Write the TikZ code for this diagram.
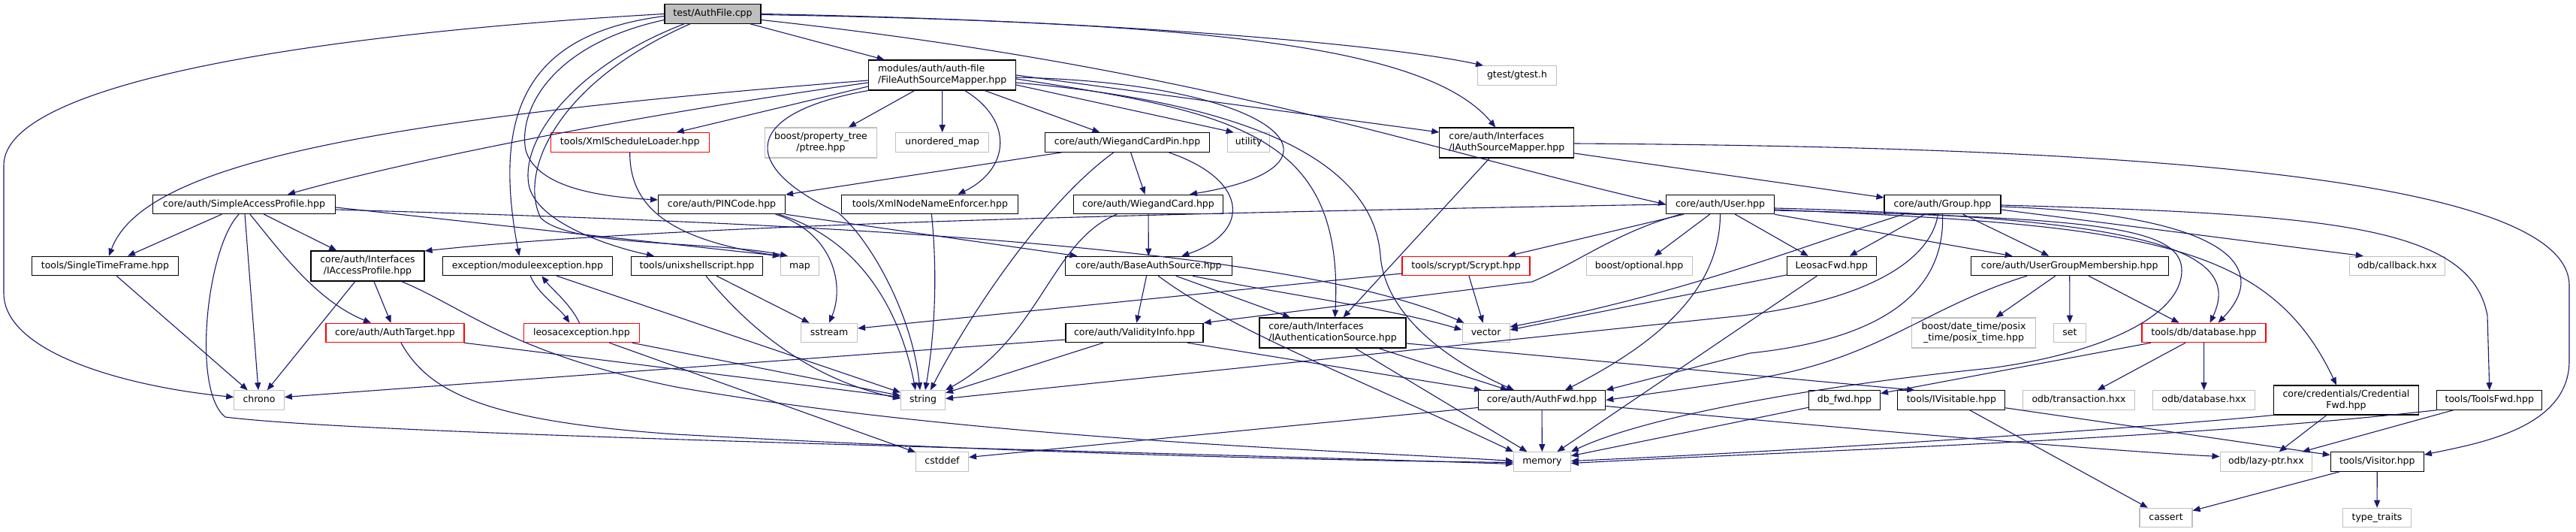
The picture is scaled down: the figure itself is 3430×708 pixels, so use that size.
\documentclass[tikz,border=0pt]{standalone}
\usepackage{fontspec}
\setmainfont{DejaVu Sans}
\usetikzlibrary{arrows.meta}
\definecolor{edgeblue}{HTML}{191970}
\definecolor{sysgray}{HTML}{BFBFBF}
\definecolor{rootgray}{HTML}{BFBFBF}
\begin{document}
\begin{tikzpicture}[x=1pt, y=-1pt, >={Triangle[length=10pt,width=8pt]}, line cap=round,
    font=\fontsize{12.5}{15}\selectfont,
    nodebox/.style={line width=1.1pt, fill=white, inner sep=0pt, minimum height=25.5pt, text height=9.5pt, text depth=3pt},
    hdrbox/.style={nodebox, draw=black},
    sysbox/.style={nodebox, draw=sysgray},
    redbox/.style={nodebox, draw=red},
    rootbox/.style={nodebox, draw=black, fill=rootgray},
    twoline/.style={text height=, text depth=, minimum height=40pt},
    dep/.style={->, draw=edgeblue, line width=1.1pt}]
    \useasboundingbox (0,0) rectangle (3430,708);
    % row 0 - 1
    \node[rootbox, minimum width=128] (root) at (949,18.5) {test/AuthFile.cpp};
    \node[hdrbox, twoline, align=left, minimum width=196] (FASM) at (1254.6,100) {modules/auth/auth-file\\/FileAuthSourceMapper.hpp};
    \node[sysbox, minimum width=104.5] (gtest) at (2020,100.5) {gtest/gtest.h};
    % row 2
    \node[redbox, minimum width=211] (XSL) at (838.7,189.5) {tools/XmlScheduleLoader.hpp};
    \node[sysbox, twoline, align=center, minimum width=149] (ptree) at (1093,190) {boost/property\_tree\\/ptree.hpp};
    \node[sysbox, minimum width=124.4] (umap) at (1254.7,189.5) {unordered\_map};
    \node[hdrbox, minimum width=219] (WCP) at (1501,189.5) {core/auth/WiegandCardPin.hpp};
    \node[sysbox, minimum width=56] (utility) at (1662.7,189.5) {utility};
    \node[hdrbox, twoline, align=left, minimum width=179] (IASM) at (2006.3,190) {core/auth/Interfaces\\/IAuthSourceMapper.hpp};
    % row 3
    \node[hdrbox, minimum width=243] (SAP) at (325,272) {core/auth/SimpleAccessProfile.hpp};
    \node[hdrbox, minimum width=169] (PINCode) at (961,272) {core/auth/PINCode.hpp};
    \node[hdrbox, minimum width=235] (XNNE) at (1238.4,272) {tools/XmlNodeNameEnforcer.hpp};
    \node[hdrbox, minimum width=198.6] (WCard) at (1529,272) {core/auth/WiegandCard.hpp};
    \node[hdrbox, minimum width=144] (User) at (2290.5,272) {core/auth/User.hpp};
    \node[hdrbox, minimum width=155] (Group) at (2586.5,272) {core/auth/Group.hpp};
    % row 4
    \node[hdrbox, minimum width=195] (STF) at (140,354) {tools/SingleTimeFrame.hpp};
    \node[hdrbox, twoline, align=center, minimum width=151] (IAP) at (489.5,354) {core/auth/Interfaces\\/IAccessProfile.hpp};
    \node[hdrbox, minimum width=226.7] (modex) at (702.4,354) {exception/moduleexception.hpp};
    \node[hdrbox, minimum width=175] (unix) at (928,354) {tools/unixshellscript.hpp};
    \node[sysbox, minimum width=51] (map) at (1065,354) {map};
    \node[hdrbox, minimum width=222.7] (BAS) at (1529.4,354) {core/auth/BaseAuthSource.hpp};
    \node[redbox, minimum width=170] (Scrypt) at (1952,354) {tools/scrypt/Scrypt.hpp};
    \node[sysbox, minimum width=141] (optional) at (2182.6,354) {boost/optional.hpp};
    \node[hdrbox, minimum width=119] (LFwd) at (2438.8,354) {LeosacFwd.hpp};
    \node[hdrbox, minimum width=263] (UGM) at (2755.7,354) {core/auth/UserGroupMembership.hpp};
    \node[sysbox, minimum width=127] (callback) at (3191.8,354) {odb/callback.hxx};
    % row 5
    \node[redbox, minimum width=184] (AuthTarget) at (526,443) {core/auth/AuthTarget.hpp};
    \node[redbox, minimum width=154] (leosac) at (774.4,443) {leosacexception.hpp};
    \node[sysbox, minimum width=75] (sstream) at (1104,443) {sstream};
    \node[hdrbox, minimum width=183] (Validity) at (1510.5,443) {core/auth/ValidityInfo.hpp};
    \node[hdrbox, twoline, align=left, minimum width=195] (IAS) at (1774.5,443) {core/auth/Interfaces\\/IAuthenticationSource.hpp};
    \node[sysbox, minimum width=63] (vector) at (1978.6,443) {vector};
    \node[sysbox, twoline, align=center, minimum width=164.6] (posix) at (2628,443) {boost/date\_time/posix\\\_time/posix\_time.hpp};
    \node[sysbox, minimum width=43] (set) at (2756,443) {set};
    \node[redbox, minimum width=165] (database) at (2934.5,443) {tools/db/database.hpp};
    % row 6
    \node[sysbox, minimum width=66.5] (chrono) at (345,532.5) {chrono};
    \node[sysbox, minimum width=59] (string) at (1229,532.5) {string};
    \node[hdrbox, minimum width=169.5] (AuthFwd) at (2053,532.5) {core/auth/AuthFwd.hpp};
    \node[hdrbox, minimum width=95] (dbfwd) at (2455.9,532.5) {db\_fwd.hpp};
    \node[hdrbox, minimum width=143] (IVisitable) at (2598.4,532.5) {tools/IVisitable.hpp};
    \node[sysbox, minimum width=148.5] (transaction) at (2768,532.5) {odb/transaction.hxx};
    \node[sysbox, minimum width=136] (odbdb) at (2934.6,532.5) {odb/database.hxx};
    \node[hdrbox, twoline, align=center, minimum width=193.3, minimum height=39pt] (CredFwd) at (3124,532.5) {core/credentials/Credential\\Fwd.hpp};
    \node[hdrbox, minimum width=140] (ToolsFwd) at (3314.8,532.5) {tools/ToolsFwd.hpp};
    % row 7 - 8
    \node[sysbox, minimum width=70] (cstddef) at (1254.5,614.5) {cstddef};
    \node[sysbox, minimum width=75.8] (memory) at (2053.4,614.5) {memory};
    \node[sysbox, minimum width=122.5] (lazyptr) at (3017.3,614.5) {odb/lazy-ptr.hxx};
    \node[hdrbox, minimum width=124] (Visitor) at (3165.3,614.5) {tools/Visitor.hpp};
    \node[sysbox, minimum width=70] (cassert) at (2884,689) {cassert};
    \node[sysbox, minimum width=90.8] (typetraits) at (3165,689) {type\_traits};

    % root
    \draw[dep] (root.west) .. controls (420,45) and (5,110) .. (5,220) -- (5,390) .. controls (5,470) and (170,515) .. ([yshift=4pt]chrono.west);
    \draw[dep] ([yshift=-3pt]root.west) .. controls (700,45) and (655,150) .. ([xshift=-11pt]modex.north);
    \draw[dep] ([yshift=-8pt]root.west) .. controls (730,60) and (690,150) .. (700,200) .. controls (715,250) and (800,262) .. ([yshift=6pt]PINCode.west);
    \draw[dep] ([xshift=-38pt]root.south) .. controls (760,90) and (690,190) .. (705,250) .. controls (720,300) and (820,330) .. ([xshift=-57pt]unix.north);
    \draw[dep] ([xshift=-30pt]root.south) .. controls (740,110) and (690,230) .. (720,290) .. controls (760,330) and (950,320) .. ([xshift=-16pt]map.north);
    \draw[dep] (root) -- (FASM);
    \draw[dep] (root.east) .. controls (1500,28) and (1850,60) .. ([xshift=-45pt]gtest.north);
    \draw[dep] ([yshift=-1pt]root.east) .. controls (1600,30) and (1900,60) .. ([xshift=-15pt]IASM.north);
    \draw[dep] ([yshift=-8pt]root.east) .. controls (1600,90) and (1900,200) .. (User.west);
    % FASM
    \draw[dep] ([yshift=-7pt]FASM.west) .. controls (480,160) and (190,220) .. ([xshift=5pt]STF.north);
    \draw[dep] ([yshift=-10pt]FASM.west) .. controls (800,160) and (520,220) .. ([xshift=58pt]SAP.north);
    \draw[dep] ([yshift=-15pt]FASM.west) -- ([xshift=62pt]XSL.north);
    \draw[dep] (FASM.south west) .. controls (990,150) and (980,220) .. (1116,283) .. controls (1160,320) and (1215,420) .. ([xshift=-4pt]string.north);
    \draw[dep] (FASM) -- (ptree);
    \draw[dep] (FASM) -- (umap);
    \draw[dep] ([xshift=30pt]FASM.south) .. controls (1350,160) and (1345,225) .. ([xshift=37pt]XNNE.north);
    \draw[dep] (FASM) -- (WCP);
    \draw[dep] ([yshift=-13pt]FASM.east) -- ([xshift=-20pt]utility.north);
    \draw[dep] ([yshift=-3pt]FASM.east) .. controls (1700,110) and (1820,220) .. ([xshift=55pt]WCard.north);
    \draw[dep] (FASM.east) -- ([yshift=14pt]IASM.west);
    \draw[dep] ([yshift=-5pt]FASM.east) .. controls (1650,150) and (1790,180) .. ([xshift=3pt]IAS.north);
    \draw[dep] ([yshift=-10pt]FASM.east) .. controls (1700,140) and (1830,230) .. (1838,340) .. controls (1845,430) and (1950,490) .. ([xshift=-37pt]AuthFwd.north);
    % SAP
    \draw[dep] (SAP) -- (STF);
    \draw[dep] (SAP) -- (chrono);
    \draw[dep] (SAP) -- (IAP);
    \draw[dep] ([xshift=8pt]SAP.south) .. controls (370,330) and (420,400) .. ([xshift=-32pt]AuthTarget.north);
    \draw[dep] ([xshift=-7pt]SAP.south) .. controls (275,330) and (255,520) .. (300,555) .. controls (500,580) and (1500,600) .. ([yshift=-3pt]memory.west);
    \draw[dep] ([yshift=-4pt]SAP.east) -- (map.north west);
    \draw[dep] ([yshift=-7pt]SAP.east) .. controls (1000,295) and (1700,320) .. ([xshift=3pt]vector.north west);
    % IAP, AuthTarget, STF, XSL, XNNE
    \draw[dep] (IAP) -- (chrono);
    \draw[dep] (IAP) -- (AuthTarget);
    \draw[dep] ([xshift=45pt]IAP.south) .. controls (620,410) and (680,470) .. (900,515) .. controls (1300,585) and (1800,600) .. ([yshift=1pt]memory.west);
    \draw[dep] (AuthTarget.south east) -- ([yshift=4pt]string.west);
    \draw[dep] ([xshift=8pt]AuthTarget.south) .. controls (570,520) and (640,560) .. (900,578) .. controls (1300,600) and (1700,612) .. ([yshift=-1pt]memory.west);
    \draw[dep] (STF) -- (chrono);
    \draw[dep] (XSL.south) .. controls (838,280) and (900,320) .. (map.north west);
    \draw[dep] ([xshift=2pt]XNNE.south) .. controls (1250,380) and (1242,460) .. ([xshift=3pt]string.north);
    % PINCode, exceptions, unixshellscript
    \draw[dep] (PINCode.south east) -- ([xshift=17pt]BAS.north west);
    \draw[dep] ([xshift=72pt]PINCode.south) .. controls (1110,310) and (1125,380) .. (sstream.north);
    \draw[dep] ([xshift=76pt]PINCode.south) .. controls (1150,320) and (1200,420) .. ([xshift=-10pt]string.north);
    \draw[dep] ([xshift=4pt]modex.south) .. controls (715,390) and (745,410) .. ([xshift=-16pt]leosac.north);
    \draw[dep] ([xshift=-3pt]leosac.north) .. controls (760,405) and (735,385) .. ([xshift=19pt]modex.south);
    \draw[dep] (modex) -- (string);
    \draw[dep] (leosac) -- (string);
    \draw[dep] (leosac) -- (cstddef);
    \draw[dep] (unix) -- (sstream);
    \draw[dep] ([xshift=12pt]unix.south) .. controls (1000,440) and (1080,505) .. ([yshift=2pt]string.west);
    % Wiegand, BaseAuthSource, ValidityInfo
    \draw[dep] (WCP) -- (PINCode);
    \draw[dep] (WCP) -- (WCard);
    \draw[dep] ([xshift=55pt]WCP.south) .. controls (1665,240) and (1665,310) .. ([xshift=44pt]BAS.north);
    \draw[dep] ([xshift=-18pt]WCP.south) .. controls (1390,270) and (1290,420) .. ([xshift=10pt]string.north);
    \draw[dep] (WCard) -- (BAS);
    \draw[dep] ([xshift=-42pt]WCard.south) .. controls (1400,320) and (1385,450) .. (string.north east);
    \draw[dep] (BAS) -- (Validity);
    \draw[dep] (BAS) -- (IAS);
    \draw[dep] ([xshift=13pt]BAS.south) .. controls (1640,440) and (1800,500) .. (memory.north west);
    \draw[dep] ([xshift=59pt]BAS.south) .. controls (1700,390) and (1850,410) .. ([yshift=4pt]vector.west);
    \draw[dep] ([yshift=-9pt]Validity.west) -- ([yshift=4pt]chrono.east);
    \draw[dep] (Validity) -- (string);
    \draw[dep] ([xshift=71pt]Validity.south) -- ([xshift=-80pt]AuthFwd.north);
    % interfaces
    \draw[dep] ([xshift=61pt]IAS.south) -- ([xshift=-45pt]AuthFwd.north);
    \draw[dep] ([xshift=30pt]IAS.south) -- ([xshift=-20pt]memory.north);
    \draw[dep] ([yshift=-14pt]IAS.east) -- ([xshift=-49pt]IVisitable.north);
    \draw[dep] ([xshift=-23pt]IASM.south) -- ([xshift=14pt]IAS.north);
    \draw[dep] ([yshift=-14pt]IASM.east) -- ([yshift=9pt]Group.west);
    \draw[dep] ([yshift=-1pt]IASM.east) .. controls (2700,195) and (3421,220) .. (3421,380) -- (3421,480) .. controls (3421,570) and (3300,590) .. ([yshift=-4pt]Visitor.north east);
    % User
    \draw[dep] (User.west) .. controls (1600,283) and (900,298) .. ([yshift=20pt]IAP.east);
    \draw[dep] ([xshift=-49pt]User.south) -- ([xshift=56pt]Scrypt.north);
    \draw[dep] ([xshift=-53pt]User.south) .. controls (2150,310) and (2100,350) .. (2040,375) -- (Validity.north east);
    \draw[dep] ([xshift=-14pt]User.south) -- ([xshift=20pt]optional.north);
    \draw[dep] (User.south) .. controls (2290,390) and (2200,460) .. ([xshift=31pt]AuthFwd.north);
    \draw[dep] ([xshift=20pt]User.south) -- ([xshift=-31pt]LFwd.north);
    \draw[dep] (User.south east) -- ([xshift=-76pt]UGM.north);
    \draw[dep] ([yshift=-5pt]User.east) .. controls (2850,290) and (2990,330) .. ([xshift=8pt]database.north);
    \draw[dep] ([yshift=-7pt]User.east) .. controls (2850,300) and (3020,320) .. ([xshift=-13pt]CredFwd.north);
    \draw[dep] ([yshift=-8pt]User.east) .. controls (2780,290) and (2905,300) .. (2905,360) .. controls (2905,420) and (2800,470) .. (2650,490) .. controls (2450,510) and (2200,550) .. (memory.north east);
    % Group, membership
    \draw[dep] (Group) -- (LFwd);
    \draw[dep] (Group) -- (UGM);
    \draw[dep] ([xshift=-52pt]Group.south) .. controls (2420,320) and (2250,390) .. ([yshift=8pt]vector.east);
    \draw[dep] ([xshift=-6pt]Group.south) .. controls (2570,350) and (2480,400) .. (2320,420) -- ([yshift=2pt]string.east);
    \draw[dep] (Group.south) .. controls (2590,380) and (2520,450) .. (2330,470) -- (AuthFwd.north east);
    \draw[dep] ([yshift=-3pt]Group.east) .. controls (2950,285) and (3030,350) .. ([xshift=19pt]database.north);
    \draw[dep] ([yshift=-1pt]Group.east) .. controls (3100,285) and (3290,300) .. (3312,420) -- (ToolsFwd.north);
    \draw[dep] ([yshift=-7pt]Group.east) -- ([xshift=-45pt]callback.north);
    \draw[dep] (UGM) -- (posix);
    \draw[dep] (UGM) -- (set);
    \draw[dep] (UGM) -- ([xshift=-33pt]database.north);
    \draw[dep] ([xshift=-57pt]UGM.south) .. controls (2560,410) and (2500,480) .. (2330,505) -- (AuthFwd.east);
    \draw[dep] (LFwd) -- ([yshift=4pt]vector.east);
    \draw[dep] (LFwd) -- ([xshift=20pt]memory.north);
    % database, visitors, forward headers
    \draw[dep] (database) -- (dbfwd);
    \draw[dep] (database) -- (transaction);
    \draw[dep] (database) -- (odbdb);
    \draw[dep] (dbfwd) -- (memory);
    \draw[dep] (IVisitable) -- (cassert);
    \draw[dep] (IVisitable) -- (Visitor);
    \draw[dep] (Visitor) -- (cassert);
    \draw[dep] (Visitor) -- (typetraits);
    \draw[dep] (ToolsFwd) -- (lazyptr);
    \draw[dep] (ToolsFwd.south west) .. controls (2900,585) and (2400,600) .. ([yshift=-2pt]memory.east);
    \draw[dep] (CredFwd) -- (lazyptr);
    \draw[dep] (CredFwd.south west) .. controls (2850,570) and (2400,600) .. ([yshift=1pt]memory.east);
    \draw[dep] (AuthFwd) -- (memory);
    \draw[dep] ([yshift=-10pt]AuthFwd.west) -- ([yshift=6pt]cstddef.east);
    \draw[dep] ([yshift=-8pt]AuthFwd.east) .. controls (2400,565) and (2800,600) .. ([yshift=7pt]lazyptr.west);
    \draw[dep] (Scrypt) -- (vector);
    \draw[dep] ([yshift=-10pt]Scrypt.west) -- ([yshift=6pt]sstream.east);
\end{tikzpicture}
\end{document}
